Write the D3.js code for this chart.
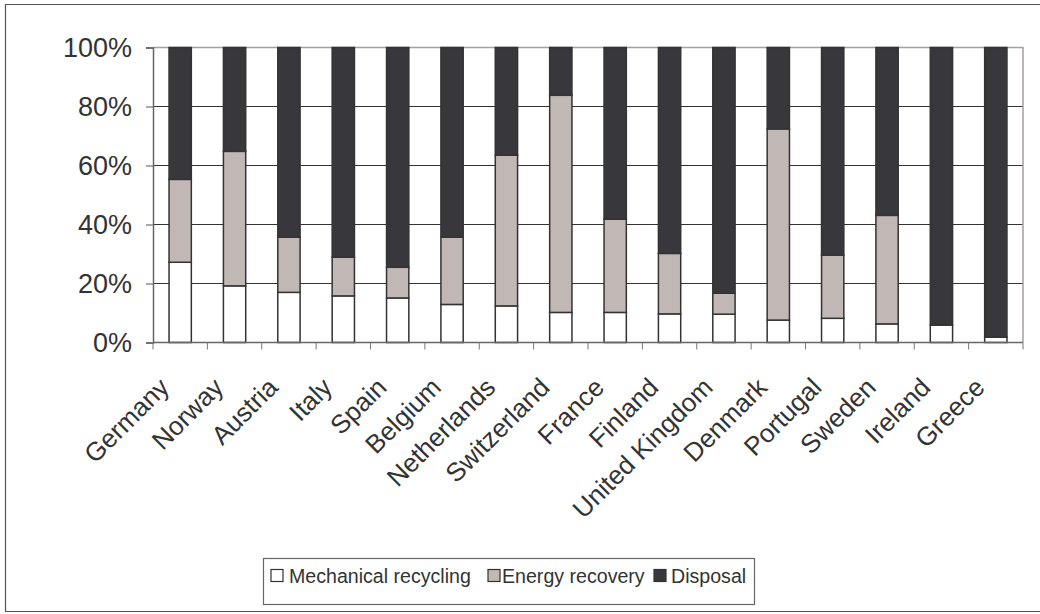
<!DOCTYPE html>
<html>
<head>
<meta charset="utf-8">
<script src="https://cdn.jsdelivr.net/npm/d3@7"></script>
<style>
  html, body { margin: 0; padding: 0; background: #fff; }
  svg text { font-family: "Liberation Sans", Arial, sans-serif; fill: #333; }
</style>
</head>
<body>
<svg id="chart" width="1040" height="614"></svg>
<script>
// Plastic waste treatment shares by country (percent of total)
const countries = ["Germany", "Norway", "Austria", "Italy", "Spain", "Belgium", "Netherlands",
  "Switzerland", "France", "Finland", "United Kingdom", "Denmark", "Portugal", "Sweden", "Ireland", "Greece"];
const mechanical = [27.2, 19.2, 17.0, 15.8, 15.1, 12.9, 12.4, 10.2, 10.2, 9.7, 9.6, 7.6, 8.2, 6.3, 5.9, 1.8];
const energy     = [28.1, 45.6, 18.7, 13.1, 10.4, 22.8, 51.1, 73.6, 31.6, 20.5, 7.1, 64.8, 21.4, 36.8, 0, 0];
const disposal   = [44.7, 35.2, 64.3, 71.1, 74.5, 64.3, 36.5, 16.2, 58.2, 69.8, 83.3, 27.6, 70.4, 56.9, 94.1, 98.2];
const seriesNames = ["Mechanical recycling", "Energy recovery", "Disposal"];
const seriesColors = ["#ffffff", "#c1b8b5", "#38373c"];
const yTicks = [0, 20, 40, 60, 80, 100];

const svg = d3.select("#chart");

// outer frame
svg.append("path")
  .attr("d", "M1045,4.5 H5.5 V611.5 H1045")
  .attr("fill", "none").attr("stroke", "#555").attr("stroke-width", 1.2);

const plot = { left: 153, right: 1023, top: 47.5, bottom: 342.5 };

const x = d3.scaleBand().domain(countries).range([plot.left, plot.right]).padding(0);
const y = d3.scaleLinear().domain([0, 100]).range([plot.bottom, plot.top]);

// horizontal gridlines
svg.append("g").selectAll("line").data(yTicks.filter(t => t > 0 && t < 100)).join("line")
  .attr("x1", plot.left).attr("x2", plot.right)
  .attr("y1", d => y(d)).attr("y2", d => y(d))
  .attr("stroke", "#333").attr("stroke-width", 1);

// plot area border on top and right
svg.append("path")
  .attr("d", `M${plot.left},${plot.top} H${plot.right} V${plot.bottom}`)
  .attr("fill", "none").attr("stroke", "#a99e9c").attr("stroke-width", 1.5);

// stacked bars
const rows = countries.map((c, i) => ({ country: c, m: mechanical[i], e: energy[i], d: disposal[i] }));
const stack = d3.stack().keys(["m", "e", "d"]);
const layers = stack(rows);
const barW = x.bandwidth() * 0.41;

svg.append("g").selectAll("g").data(layers).join("g")
  .attr("fill", (d, i) => seriesColors[i])
  .selectAll("rect").data(d => d.filter(p => p[1] - p[0] > 0)).join("rect")
  .attr("x", d => x(d.data.country) + (x.bandwidth() - barW) / 2)
  .attr("width", barW)
  .attr("y", d => y(d[1]))
  .attr("height", d => y(d[0]) - y(d[1]))
  .attr("stroke", "#333").attr("stroke-width", 1.5);

// y axis
const yAxis = svg.append("g").attr("transform", `translate(${plot.left},0)`)
  .call(d3.axisLeft(y).tickValues(yTicks).tickFormat(d => d + "%").tickSize(7).tickPadding(14));
yAxis.select(".domain").attr("stroke", "#6a6466").attr("stroke-width", 1.5);
yAxis.selectAll(".tick line").attr("stroke", "#555");
yAxis.selectAll(".tick text").attr("font-size", 27).attr("fill", "#333");

// x axis
const boundaries = d3.range(countries.length + 1).map(i => plot.left + i * x.bandwidth());
svg.append("line")
  .attr("x1", plot.left).attr("x2", plot.right)
  .attr("y1", plot.bottom).attr("y2", plot.bottom)
  .attr("stroke", "#6a6466").attr("stroke-width", 1.5);
svg.append("g").selectAll("line").data(boundaries).join("line")
  .attr("x1", d => d).attr("x2", d => d)
  .attr("y1", plot.bottom).attr("y2", plot.bottom + 7)
  .attr("stroke", "#777").attr("stroke-width", 1);

svg.append("g").selectAll("text").data(countries).join("text")
  .attr("transform", d => `translate(${x(d) + x.bandwidth() / 2 - 16},${plot.bottom + 40}) rotate(-45)`)
  .attr("text-anchor", "end")
  .attr("dy", "0.35em")
  .attr("font-size", 26)
  .text(d => d);

// legend
const legend = svg.append("g");
legend.append("rect")
  .attr("x", 263.5).attr("y", 558.5).attr("width", 491).attr("height", 46)
  .attr("fill", "#fff").attr("stroke", "#666").attr("stroke-width", 1.2);
const swatchX = [271, 488, 654];
const labelX = [289, 502, 671];
seriesNames.forEach((name, i) => {
  legend.append("rect")
    .attr("x", swatchX[i]).attr("y", 569.5).attr("width", 12).attr("height", 12)
    .attr("fill", seriesColors[i]).attr("stroke", "#333").attr("stroke-width", 1.2);
  legend.append("text")
    .attr("x", labelX[i]).attr("y", 582.5)
    .attr("font-size", 19.6)
    .text(name);
});
</script>
</body>
</html>
